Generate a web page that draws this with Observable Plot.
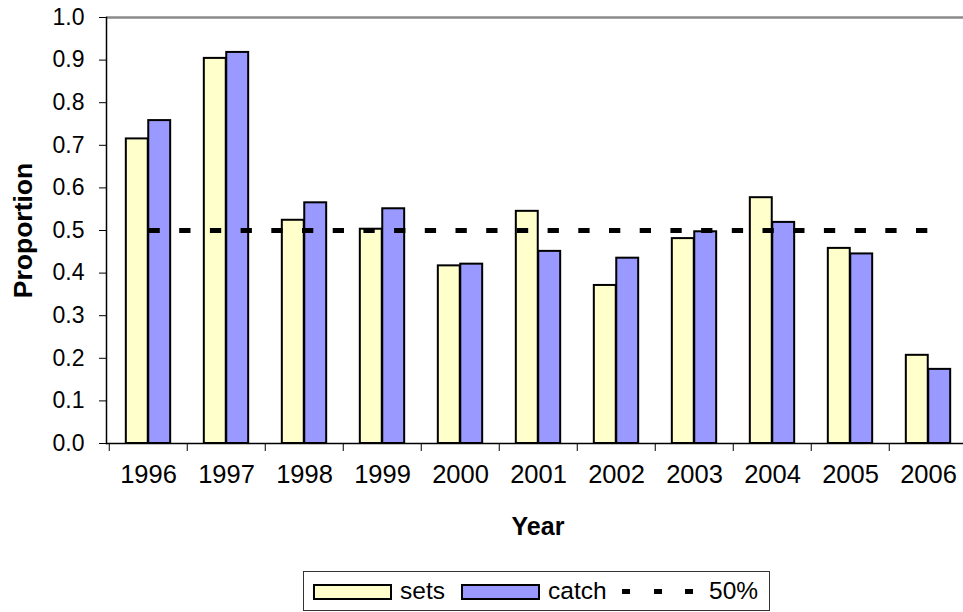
<!DOCTYPE html>
<html>
<head>
<meta charset="utf-8">
<script src="https://cdn.jsdelivr.net/npm/d3@7"></script>
<script src="https://cdn.jsdelivr.net/npm/@observablehq/plot@0.6"></script>
<style>
  html, body { margin: 0; padding: 0; background: #fff; overflow: hidden; }
  body { width: 963px; height: 612px; position: relative; font-family: "Liberation Sans", Arial, sans-serif; }
  #chart svg { display: block; }
  .legend {
    position: absolute; left: 303px; top: 571px; width: 467px; height: 40px;
    box-sizing: border-box; border: 1px solid #333; background: #fff;
    font-size: 24.5px; color: #000;
  }
  .legend > * { position: absolute; }
  .legend .swatch { top: 11.5px; width: 79px; height: 16px; box-sizing: border-box; border: 2px solid #000; }
  .legend .label { top: 50%; transform: translateY(-50%); line-height: 1; }
  .legend .dash { top: 17px; width: 8px; height: 5px; background: #000; }
</style>
</head>
<body>
<div id="chart"></div>
<div class="legend">
  <div class="swatch" style="left:9px;background:#FFFFCC"></div>
  <div class="label" style="left:96px">sets</div>
  <div class="swatch" style="left:157px;background:#9999FF"></div>
  <div class="label" style="left:244px">catch</div>
  <div class="dash" style="left:318px"></div>
  <div class="dash" style="left:350px"></div>
  <div class="dash" style="left:381px"></div>
  <div class="label" style="left:405px">50%</div>
</div>
<script>
// Proportion of sets and catch by year, with the 50% reference level
const years = ["1996", "1997", "1998", "1999", "2000", "2001", "2002", "2003", "2004", "2005", "2006"];
const sets  = [0.715, 0.904, 0.524, 0.503, 0.417, 0.545, 0.371, 0.481, 0.577, 0.458, 0.207];
const catchProp = [0.758, 0.918, 0.565, 0.551, 0.421, 0.451, 0.435, 0.497, 0.519, 0.445, 0.174];
const referenceLevel = 0.5;
const yTicks = [0.0, 0.1, 0.2, 0.3, 0.4, 0.5, 0.6, 0.7, 0.8, 0.9, 1.0];

const setsData = years.map((year, i) => ({year, value: sets[i]}));
const catchData = years.map((year, i) => ({year, value: catchProp[i]}));
const refData = years.map(year => ({year, value: referenceLevel}));

const width = 963, height = 560;
const marginLeft = 106, marginTop = 17;
const bandRange = [106, 969.5];
const bw = (bandRange[1] - bandRange[0]) / years.length;
const barW = bw / 3.5;
const gap = (bw - 2 * barW) / 2;

const font = "Liberation Sans, Arial, sans-serif";

const chart = Plot.plot({
  width, height,
  marginLeft, marginTop, marginRight: 0, marginBottom: height - 443,
  style: {fontFamily: font, fontSize: "23px", color: "#000", background: "#fff"},
  x: {domain: years, range: bandRange, padding: 0},
  y: {domain: [0, 1], label: null},
  marks: [
    // gray top edge of the plot area
    Plot.ruleY([1], {stroke: "#8a8a8a", strokeWidth: 2.5}),
    Plot.barY(setsData, {x: "year", y: "value", fill: "#FFFFCC", stroke: "#000", strokeWidth: 2,
      insetLeft: gap, insetRight: bw - gap - barW}),
    Plot.barY(catchData, {x: "year", y: "value", fill: "#9999FF", stroke: "#000", strokeWidth: 2,
      insetLeft: gap + barW, insetRight: gap}),
    Plot.lineY(refData, {x: "year", y: "value", stroke: "#000", strokeWidth: 5,
      strokeDasharray: "11.3,19.4", strokeLinecap: "butt"}),
    // axes
    Plot.ruleY([0], {stroke: "#000", strokeWidth: 1.5}),
    Plot.frame({anchor: "left", stroke: "#000", strokeWidth: 1.5}),
    Plot.axisY({ticks: yTicks, tickFormat: d3.format(".1f"), tickSize: 7, tickPadding: 15,
      fontSize: 23, label: null, stroke: "#000"}),
    Plot.axisX({tickSize: 0, tickPadding: 21, fontSize: 25.5, label: null}),
    Plot.axisX({tickSize: 8, tickFormat: () => "", dx: -bw / 2, label: null, stroke: "#000"}),
    Plot.text(["Proportion"], {frameAnchor: "left", textAnchor: "middle", lineAnchor: "middle",
      rotate: -90, dx: -83, fontWeight: "bold", fontSize: 26.5, fill: "#000"}),
    Plot.text(["Year"], {frameAnchor: "bottom", textAnchor: "middle", lineAnchor: "middle",
      dx: 3, dy: 83, fontWeight: "bold", fontSize: 25, fill: "#000"})
  ]
});
document.getElementById("chart").append(chart);
</script>
</body>
</html>
